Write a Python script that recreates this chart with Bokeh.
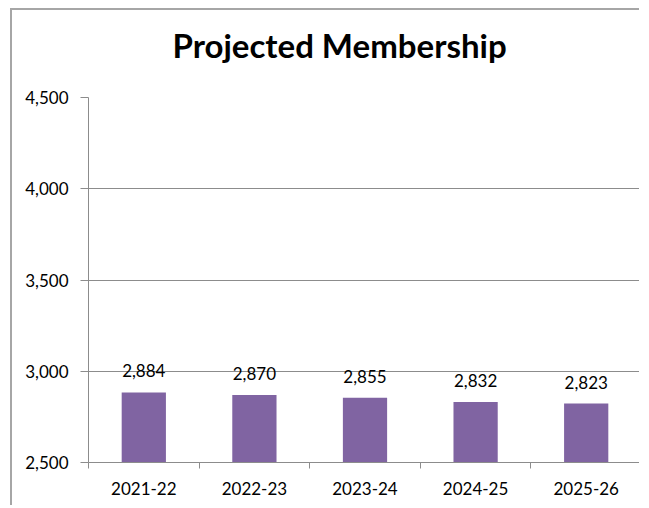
from bokeh.plotting import figure
from bokeh.models import (Range1d, FixedTicker, NumeralTickFormatter,
                          ColumnDataSource, LabelSet, Title)
from bokeh.core.properties import value
from bokeh.embed import file_html
from bokeh.resources import INLINE

categories = ["2021-22", "2022-23", "2023-24", "2024-25", "2025-26"]
members = [2884, 2870, 2855, 2832, 2823]
y_ticks = [2500, 3000, 3500, 4000, 4500]
title_text = "Projected Membership"

FONT = "Lato"
GRAY = "#8c8c8c"

xs = [i + 0.5 for i in range(len(categories))]
src = ColumnDataSource(dict(x=xs, top=members,
                            lbl=[f"{m:,}" for m in members]))

p = figure(width=629, height=497, output_backend="svg", toolbar_location=None,
           x_range=Range1d(0, len(categories)), y_range=Range1d(y_ticks[0], y_ticks[-1]),
           min_border_left=76, min_border_right=0, min_border_top=87,
           min_border_bottom=45, outline_line_color=None,
           styles={"border-top": "2px solid #a6a6a6", "border-left": "2px solid #a6a6a6",
                   "border-right": "none", "border-bottom": "none",
                   "margin-top": "8px", "margin-left": "10px"})

p.title.text = title_text
p.title.align = "left"
p.title.offset = 84
p.title.standoff = 10
p.title.text_font = FONT
p.title.text_font_style = "bold"
p.title.text_font_size = "33px"
p.title.text_color = "#000000"

# spacer panel between the title and the plot area
p.add_layout(Title(text=" ", text_font_size="2px", standoff=24), "above")

p.vbar(x="x", top="top", bottom=y_ticks[0], width=0.4, source=src,
       fill_color="#8064A2", line_color=None)

labels = LabelSet(x="x", y="top", text="lbl", source=src, text_align="center",
                  text_baseline="alphabetic", y_offset=15, text_font=value(FONT),
                  text_font_size="17px", text_color="#000000")
p.add_layout(labels)

p.yaxis.ticker = FixedTicker(ticks=y_ticks)
p.yaxis.formatter = NumeralTickFormatter(format="0,0")
p.yaxis.major_tick_out = 8
p.yaxis.major_tick_in = 0
p.yaxis.minor_tick_out = 0
p.yaxis.minor_tick_in = 0
p.yaxis.major_label_standoff = 12
p.yaxis.axis_line_color = GRAY
p.yaxis.major_tick_line_color = GRAY
p.yaxis.major_label_text_font = FONT
p.yaxis.major_label_text_font_size = "17px"
p.yaxis.major_label_text_color = "#000000"

p.xaxis.ticker = FixedTicker(ticks=xs, minor_ticks=list(range(len(categories) + 1)))
p.xaxis.major_label_overrides = {x: c for x, c in zip(xs, categories)}
p.xaxis.major_tick_out = 0
p.xaxis.major_tick_in = 0
p.xaxis.minor_tick_out = 6
p.xaxis.minor_tick_in = 0
p.xaxis.minor_tick_line_color = GRAY
p.xaxis.axis_line_color = GRAY
p.xaxis.major_label_standoff = 13
p.xaxis.major_label_text_font = FONT
p.xaxis.major_label_text_font_size = "17px"
p.xaxis.major_label_text_color = "#000000"

p.xgrid.visible = False
p.ygrid.ticker = FixedTicker(ticks=y_ticks)
p.ygrid.grid_line_color = GRAY

open("out.html", "w").write(file_html(p, INLINE))
